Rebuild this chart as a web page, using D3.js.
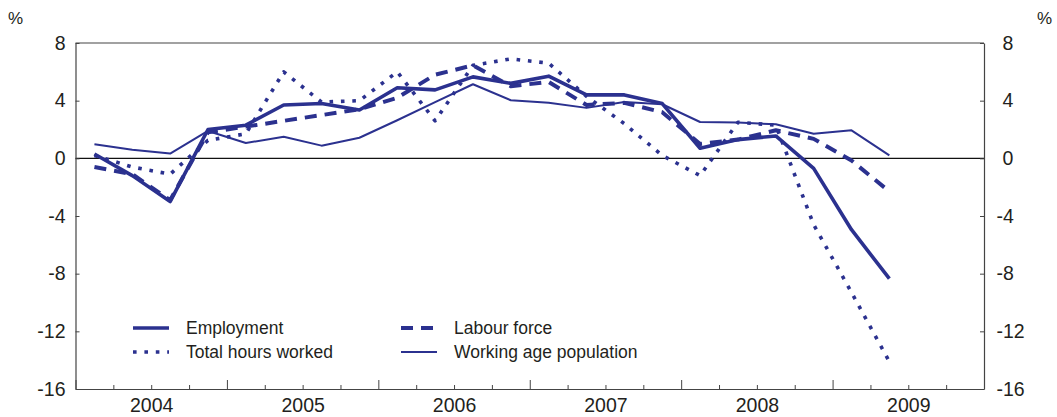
<!DOCTYPE html>
<html>
<head>
<meta charset="utf-8">
<script src="https://cdn.jsdelivr.net/npm/d3@7"></script>
<style>
  body { margin: 0; background: #fff; }
  svg text { font-family: "Liberation Sans", Arial, sans-serif; fill: #231f20; }
</style>
</head>
<body>
<div class="chart"></div>
<script>
// quarterly, Q1 2004 .. Q2 2009, % change
const quarters = d3.range(22).map(i => 2004 + Math.floor(i / 4) + ((i % 4) + 0.5) / 4);
const employment = [0.3, -1.2, -3.0, 2.0, 2.3, 3.7, 3.8, 3.35, 4.9, 4.75, 5.65, 5.2, 5.7, 4.4, 4.4, 3.8, 0.7, 1.3, 1.55, -0.7, -4.95, -8.35];
const labourForce = [-0.6, -1.1, -2.9, 1.8, 2.2, 2.6, 3.0, 3.4, 4.2, 5.8, 6.45, 5.0, 5.3, 3.7, 3.85, 3.2, 1.0, 1.3, 1.95, 1.35, -0.15, -2.3];
const hoursWorked = [0.2, -0.6, -1.1, 1.25, 1.7, 6.0, 3.9, 4.0, 6.0, 2.6, 6.45, 6.9, 6.6, 4.3, 2.4, 0.2, -1.2, 2.5, 2.3, -4.6, -9.3, -14.1];
const workingAge = [0.97, 0.6, 0.33, 1.9, 1.06, 1.5, 0.88, 1.43, 2.64, 3.9, 5.14, 4.03, 3.86, 3.5, 3.9, 3.75, 2.52, 2.48, 2.36, 1.71, 1.94, 0.2];
const yTicks = [8, 4, 0, -4, -8, -12, -16];
const years = [2004, 2005, 2006, 2007, 2008, 2009];

const w = 1057, h = 417,
      mLeft = 75.5, mRight = 984, mTop = 43, mBottom = 389,
      blue = "#2b318f";

const svg = d3.select(".chart").append("svg")
  .attr("width", w).attr("height", h);

const xScale = d3.scaleLinear().domain([2004, 2010]).range([mLeft, mRight]);
const yScale = d3.scaleLinear().domain([-16, 8]).range([mBottom, mTop]);

// frame
svg.append("line").attr("x1", mLeft).attr("x2", mRight).attr("y1", mTop).attr("y2", mTop)
  .attr("stroke", "#444").attr("stroke-width", 1.2);

// zero line
svg.append("line").attr("x1", mLeft).attr("x2", mRight)
  .attr("y1", yScale(0)).attr("y2", yScale(0))
  .attr("stroke", "#111").attr("stroke-width", 1.2);

const yLeft = d3.axisLeft(yScale).tickValues(yTicks)
  .tickSizeInner(-4).tickSizeOuter(0).tickPadding(10)
  .tickFormat(d => String(d));
const yRight = d3.axisRight(yScale).tickValues(yTicks)
  .tickSizeInner(-4).tickSizeOuter(0).tickPadding(19)
  .tickFormat(d => String(d));

const gl = svg.append("g").attr("transform", "translate(" + mLeft + ",0)").call(yLeft);
const gr = svg.append("g").attr("transform", "translate(" + mRight + ",0)").call(yRight);
[gl, gr].forEach(g => {
  g.select(".domain").attr("stroke", "#444").attr("stroke-width", 1.2);
  g.selectAll(".tick line").attr("stroke", "#444");
  g.selectAll(".tick text").style("font-size", "19.5px").attr("fill", "#231f20");
});
gr.selectAll(".tick text").attr("x", d => d < 0 ? 12.5 : 18.5);

// x axis: quarter ticks, longer at year boundaries
const quarterTicks = d3.range(0, 24).map(i => 2004 + i / 4);
const xAxis = d3.axisBottom(xScale).tickValues(quarterTicks)
  .tickSizeOuter(0).tickFormat("");
const gx = svg.append("g").attr("transform", "translate(0," + mBottom + ")").call(xAxis);
gx.select(".domain").attr("stroke", "#444").attr("stroke-width", 1.2);
gx.selectAll(".tick line")
  .attr("stroke", "#444")
  .attr("y2", d => Number.isInteger(d) ? -9 : -4);

const xLabels = d3.axisBottom(xScale).tickValues(years.map(y => y + 0.5))
  .tickSize(0).tickPadding(9).tickFormat(d => Math.floor(d));
const gxl = svg.append("g").attr("transform", "translate(0," + mBottom + ")").call(xLabels);
gxl.select(".domain").remove();
gxl.selectAll(".tick text").style("font-size", "19.5px").attr("fill", "#231f20");

// units
svg.append("text").attr("x", 8).attr("y", 24).style("font-size", "17px").text("%");
svg.append("text").attr("x", 1037).attr("y", 24).style("font-size", "17px").text("%");

const series = [
  { name: "Employment", values: employment, width: 3.6, dash: null },
  { name: "Labour force", values: labourForce, width: 4, dash: "12,8" },
  { name: "Total hours worked", values: hoursWorked, width: 3.6, dash: "3.6,7.8" },
  { name: "Working age population", values: workingAge, width: 2, dash: null }
];

const line = d3.line()
  .x((d, i) => xScale(quarters[i]))
  .y(d => yScale(d));

series.forEach(s => {
  svg.append("path")
    .datum(s.values)
    .attr("d", line)
    .attr("fill", "none")
    .attr("stroke", blue)
    .attr("stroke-width", s.width)
    .attr("stroke-linejoin", "round")
    .attr("stroke-dasharray", s.dash);
});

// legend
const legendPos = [
  { s: series[0], x: 133, y: 328 },
  { s: series[2], x: 133, y: 352 },
  { s: series[1], x: 401, y: 328 },
  { s: series[3], x: 401, y: 352 }
];
legendPos.forEach(p => {
  svg.append("line")
    .attr("x1", p.x).attr("x2", p.x + 36)
    .attr("y1", p.y).attr("y2", p.y)
    .attr("stroke", blue)
    .attr("stroke-width", p.s.width)
    .attr("stroke-dasharray", p.s.dash);
  svg.append("text")
    .attr("x", p.x + 53).attr("y", p.y + 6)
    .style("font-size", "17.5px")
    .text(p.s.name);
});
</script>
</body>
</html>
